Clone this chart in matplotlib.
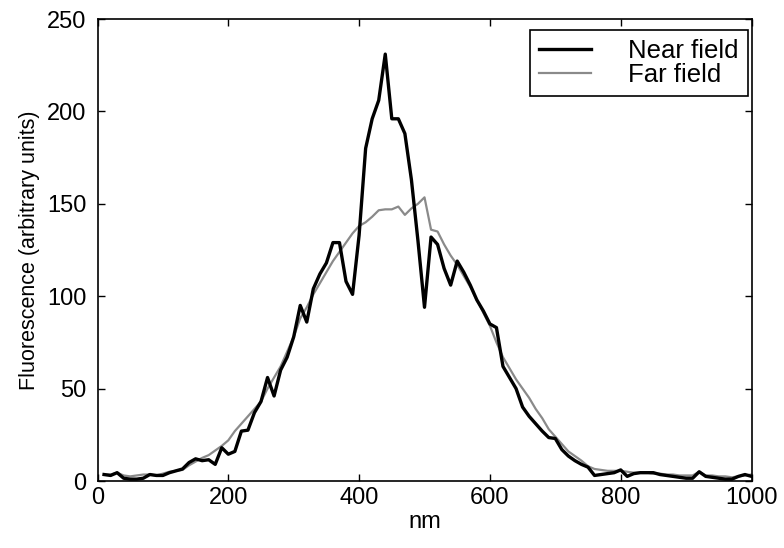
import numpy as np
import matplotlib
matplotlib.use('Agg')
import matplotlib.pyplot as plt

# wavelength grid (nm)
nm = np.arange(10, 1001, 10)

near_field = [3.5, 3, 4.5, 1.5, 1, 1, 1.5, 3.5, 3, 3,
              4.5, 5.5, 6.5, 10, 12, 11, 11.5, 9, 18, 14.5,
              16, 27, 27.5, 37, 43, 56, 46, 60, 67, 78,
              95, 86, 104, 112, 118, 129, 129, 108, 101, 133,
              180, 196, 206, 231, 196, 196, 188, 163, 130, 94,
              132, 128, 115, 106, 119, 113, 106, 98, 92, 85,
              83, 62, 56, 50, 40, 35, 31, 27, 23.5, 23,
              17, 13.5, 11, 9, 7.5, 3, 3.5, 4, 4.5, 6,
              2.5, 4, 4.5, 4.5, 4.5, 3.5, 3, 2.5, 2, 1.5,
              1.5, 5, 2.5, 2, 1.5, 1, 1, 2.5, 3.5, 2.5]

far_field = [3.5, 3.5, 4.5, 3, 2.5, 3, 3.5, 3.5, 3, 4,
             5, 5.5, 6, 8.5, 10.5, 12.5, 14, 16.5, 19, 22,
             27, 31, 35, 39, 43, 50, 56, 62, 70, 78,
             88, 94, 101, 107, 113, 119, 124, 129, 134, 138,
             140, 143, 146.5, 147, 147, 148.5, 144, 147.5, 150, 153.5,
             136, 135, 128, 122, 117, 111, 105, 98, 91, 84,
             75, 67, 61, 55, 50, 45, 39, 34, 28, 24,
             20, 16, 13.5, 11, 8, 6.5, 6, 5.5, 5.5, 5.5,
             5, 4.5, 4.5, 4.5, 4, 4, 3.5, 3.5, 3, 3,
             3, 5, 3, 3, 2.5, 2.5, 2, 2.5, 3, 3.5]

plt.rcParams['font.family'] = ['Liberation Sans', 'DejaVu Sans']

fig = plt.figure(figsize=(7.84, 5.48), dpi=100)
ax = fig.add_axes([97.5/784, 67/548, (751.5-97.5)/784, (481-19)/548])

ax.plot(nm, far_field, color='#8a8a8a', lw=1.6, label='Far field', zorder=2)
ax.plot(nm, near_field, color='black', lw=2.4, label='Near field', zorder=3)

ax.set_xlim(0, 1000)
ax.set_ylim(0, 250)
ax.set_xticks(np.arange(0, 1001, 200))
ax.set_yticks(np.arange(0, 251, 50))
ax.tick_params(direction='in', length=5, width=1, top=True, right=True, labelsize=17)
ax.tick_params(axis='y', pad=8)
ax.tick_params(axis='x', pad=4)
for s in ax.spines.values():
    s.set_linewidth(1.2)

ax.set_xlabel('nm', fontsize=17, labelpad=2)
ax.set_ylabel('Fluorescence (arbitrary units)', fontsize=15.5, labelpad=5)

h, l = ax.get_legend_handles_labels()
leg = ax.legend(h[::-1], l[::-1], loc='upper right', bbox_to_anchor=(0.998, 0.982),
                fontsize=18.5, frameon=True, fancybox=False, edgecolor='black',
                framealpha=1, handlelength=2.0, handletextpad=1.45,
                labelspacing=0.0, borderpad=0.35, borderaxespad=0.1)
leg.get_frame().set_linewidth(1.2)

fig.savefig('out.png', dpi=100)
